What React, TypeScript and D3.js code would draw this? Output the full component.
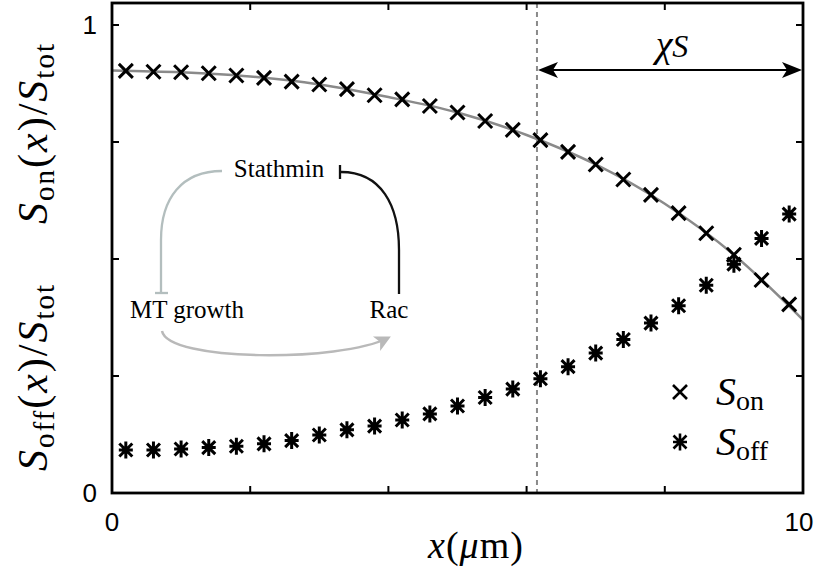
import * as d3 from 'd3'

// positions along the cell (µm)
const positions = [0.2, 0.6, 1.0, 1.4, 1.8, 2.2, 2.6, 3.0, 3.4, 3.8, 4.2, 4.6, 5.0, 5.4, 5.8, 6.2, 6.6, 7.0, 7.4, 7.8, 8.2, 8.6, 9.0, 9.4, 9.8]
const sOn = [0.902, 0.9, 0.899, 0.897, 0.892, 0.887, 0.879, 0.873, 0.863, 0.85, 0.841, 0.827, 0.813, 0.795, 0.776, 0.754, 0.729, 0.702, 0.67, 0.637, 0.598, 0.555, 0.509, 0.455, 0.403]
const sOff = [0.092, 0.092, 0.094, 0.097, 0.1, 0.105, 0.112, 0.124, 0.135, 0.143, 0.156, 0.169, 0.186, 0.204, 0.222, 0.244, 0.27, 0.299, 0.328, 0.363, 0.4, 0.444, 0.489, 0.544, 0.596]

// analytic curve, sampled
const curveX = [0, 1, 2, 3, 4, 5, 6, 7, 8, 9, 10]
const curveY = [0.903, 0.899, 0.89, 0.873, 0.846, 0.813, 0.765, 0.702, 0.618, 0.509, 0.37]

const xTicks = [0, 2, 4, 6, 8, 10]
const yTicks = [0, 0.25, 0.5, 0.75, 1]
const xLabels = ['0', '10']
const yLabels = ['0', '1']
const chiS = 6.15

const W = 817
const H = 568

export default function App() {
  const x = d3.scaleLinear().domain([0, 10]).range([112, 803])
  const y = d3.scaleLinear().domain([0, 1]).range([493, 25])
  const yTop = y(1.047)

  const line = d3
    .line<number>()
    .x((d, i) => x(curveX[i]))
    .y(d => y(d))
    .curve(d3.curveMonotoneX)

  const cross = 'M-7,-7L7,7M-7,7L7,-7'
  const star = 'M-6.5,-6.5L6.5,6.5M-6.5,6.5L6.5,-6.5M0,-8.5L0,8.5M-7,0L7,0'

  const serif = 'Liberation Serif, DejaVu Serif, serif'
  const sans = 'Liberation Sans, Arial, sans-serif'

  return (
    <svg
      width={W}
      height={H}
      style={{ position: 'absolute', left: 0, top: 0, background: '#fff' }}
    >
      <defs>
        <marker id="grayhead" viewBox="0 0 10 10" refX="8" refY="5" markerWidth="18" markerHeight="16" orient="auto" markerUnits="userSpaceOnUse">
          <path d="M0,0L10,5L0,10L2.5,5Z" fill="#b9b9b9" />
        </marker>
      </defs>

      {/* fitted curve */}
      <path d={line(curveY) || ''} fill="none" stroke="#8a8a8a" strokeWidth={2.5} />

      {/* chi_S marker */}
      <line x1={x(chiS)} x2={x(chiS)} y1={yTop} y2={y(0)} stroke="#8a8a8a" strokeWidth={2} strokeDasharray="5,4" />
      <line x1={x(chiS) + 6} x2={x(10) - 6} y1={70} y2={70} stroke="#000" strokeWidth={2} />
      <path d={`M${x(chiS) + 1},70l20,-8l-5,8l5,8z`} fill="#000" />
      <path d={`M${x(10) - 1},70l-20,-8l5,8l-5,8z`} fill="#000" />
      <text x={672} y={57} fontFamily={serif} fontSize={38} fontStyle="italic" textAnchor="middle">
        χ<tspan fontSize={32}>S</tspan>
      </text>

      {/* markers */}
      {positions.map((p, i) => (
        <path key={'on' + i} d={cross} transform={`translate(${x(p)},${y(sOn[i])})`} stroke="#000" strokeWidth={3} fill="none" />
      ))}
      {positions.map((p, i) => (
        <path key={'off' + i} d={star} transform={`translate(${x(p)},${y(sOff[i])})`} stroke="#000" strokeWidth={3} fill="none" />
      ))}

      {/* inset network */}
      <g fontFamily={serif} fontSize={25} fill="#000">
        <text x={279} y={177} textAnchor="middle">Stathmin</text>
        <text x={187} y={318} textAnchor="middle">MT growth</text>
        <text x={389} y={318} textAnchor="middle">Rac</text>
      </g>
      <path d="M222,171C182,171 161,198 161,240L161,292" fill="none" stroke="#b3bebe" strokeWidth={2.3} />
      <path d="M155,293L168,293" stroke="#b3bebe" strokeWidth={2.3} />
      <path d="M341,172C381,172 399,205 399,250L399,294" fill="none" stroke="#111" strokeWidth={2.3} />
      <path d="M340,165L340,179" stroke="#111" strokeWidth={2.3} />
      <path d="M162,331C168,362 340,362 388,338" fill="none" stroke="#b9b9b9" strokeWidth={2.5} markerEnd="url(#grayhead)" />

      {/* frame */}
      <rect x={x(0)} y={yTop} width={x(10) - x(0)} height={y(0) - yTop} fill="none" stroke="#000" strokeWidth={2.8} />
      {xTicks.map(t => (
        <g key={'xt' + t}>
          <line x1={x(t)} x2={x(t)} y1={y(0)} y2={y(0) - 7} stroke="#000" strokeWidth={2} />
          <line x1={x(t)} x2={x(t)} y1={yTop} y2={yTop + 7} stroke="#000" strokeWidth={2} />
        </g>
      ))}
      {yTicks.map(t => (
        <g key={'yt' + t}>
          <line x1={x(0)} x2={x(0) + 7} y1={y(t)} y2={y(t)} stroke="#000" strokeWidth={2} />
          <line x1={x(10)} x2={x(10) - 7} y1={y(t)} y2={y(t)} stroke="#000" strokeWidth={2} />
        </g>
      ))}

      {/* tick labels */}
      <g fontFamily={sans} fontSize={26} fill="#000">
        {xLabels.map(l => (
          <text key={'xl' + l} x={Math.min(x(+l), 799)} y={531} textAnchor="middle">{l}</text>
        ))}
        {yLabels.map(l => (
          <text key={'yl' + l} x={97} y={y(+l) + 9} textAnchor="end">{l}</text>
        ))}
      </g>

      {/* axis titles */}
      <text x={476} y={558} fontFamily={serif} fontSize={38} textAnchor="middle" letterSpacing={1}>
        <tspan fontStyle="italic">x</tspan>(<tspan fontStyle="italic">μ</tspan>m)
      </text>
      <text transform="translate(47,133) rotate(-90)" fontFamily={serif} fontSize={42} textAnchor="middle" letterSpacing={2}>
        <tspan fontStyle="italic">S</tspan><tspan fontSize={29} dy={7}>on</tspan>
        <tspan dy={-7}>(</tspan><tspan fontStyle="italic">x</tspan>)/<tspan fontStyle="italic">S</tspan><tspan fontSize={29} dy={7}>tot</tspan>
      </text>
      <text transform="translate(47,377) rotate(-90)" fontFamily={serif} fontSize={42} textAnchor="middle" letterSpacing={2}>
        <tspan fontStyle="italic">S</tspan><tspan fontSize={29} dy={7}>off</tspan>
        <tspan dy={-7}>(</tspan><tspan fontStyle="italic">x</tspan>)/<tspan fontStyle="italic">S</tspan><tspan fontSize={29} dy={7}>tot</tspan>
      </text>

      {/* legend */}
      <path d={cross} transform="translate(680,392)" stroke="#000" strokeWidth={2.6} fill="none" />
      <path d={star} transform="translate(680,442)" stroke="#000" strokeWidth={2.6} fill="none" />
      <text x={716} y={405} fontFamily={serif} fontSize={40}>
        <tspan fontStyle="italic">S</tspan><tspan fontSize={28} dy={5}>on</tspan>
      </text>
      <text x={716} y={455} fontFamily={serif} fontSize={40}>
        <tspan fontStyle="italic">S</tspan><tspan fontSize={28} dy={5}>off</tspan>
      </text>
    </svg>
  )
}
